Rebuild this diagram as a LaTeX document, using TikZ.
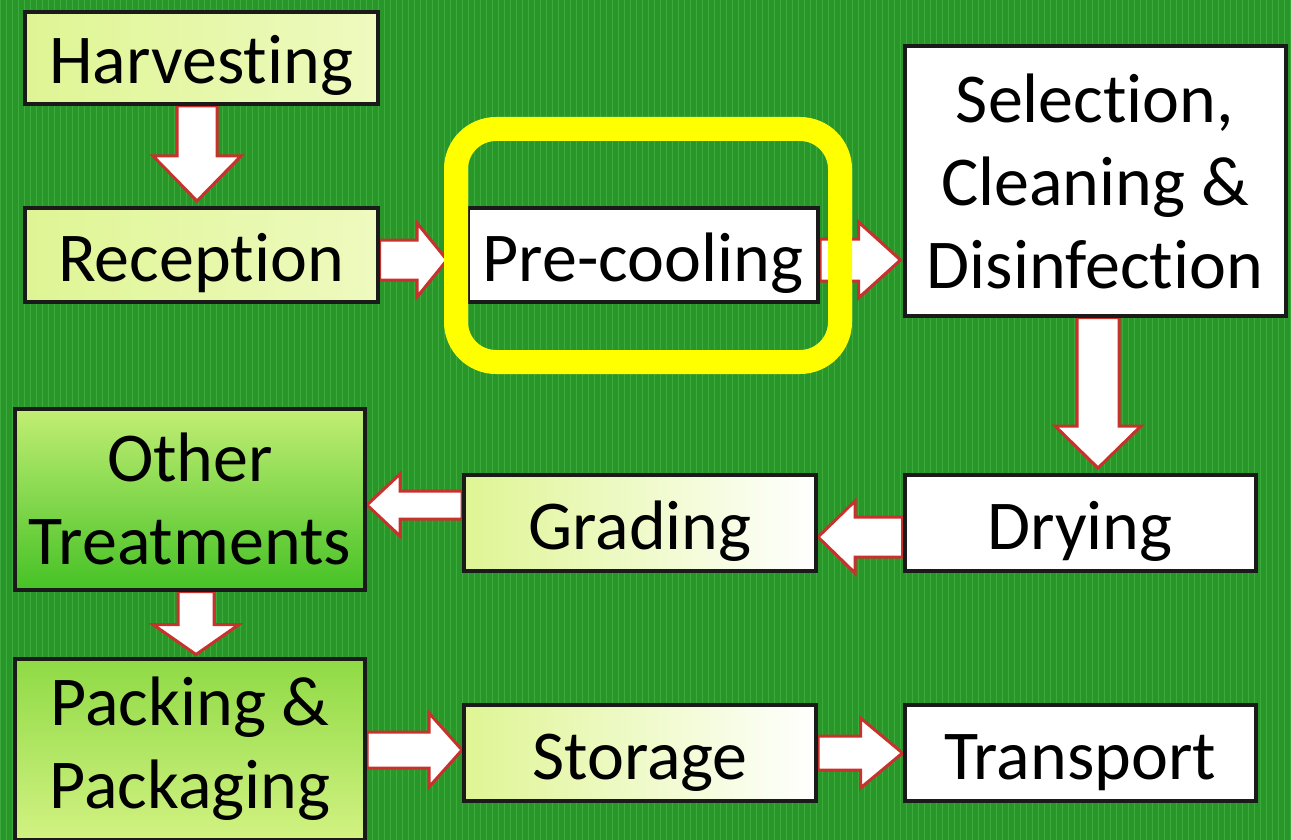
\documentclass[tikz,border=0pt]{standalone}
\usepackage{fontspec}
\setmainfont{Carlito}[Ligatures={NoCommon,NoContextual,NoRare},Contextuals=NoAlternate]
\usetikzlibrary{calc}
\pgfdeclarelayer{bgl}
\pgfdeclarelayer{arrl}
\pgfsetlayers{bgl,arrl,main}
\definecolor{bggreen}{HTML}{289628}
\definecolor{gridgreen}{HTML}{3DAA3D}
\definecolor{boxline}{HTML}{1A1A1A}
\definecolor{arrred}{HTML}{C8322D}
\definecolor{hlyellow}{HTML}{FFFF00}
\definecolor{limeA}{HTML}{DFF594}
\definecolor{limeB}{HTML}{EEFABF}
\definecolor{othA}{HTML}{C2EE74}
\definecolor{othB}{HTML}{46C226}
\definecolor{packA}{HTML}{8FDA45}
\definecolor{packB}{HTML}{D2F282}
\tikzset{
  stepbox/.style={draw=boxline, line width=4pt, inner sep=0pt, align=center,
    font=\fontsize{70}{83}\selectfont},
  whitebox/.style={stepbox, fill=white},
  limebox/.style={stepbox, left color=limeA, right color=limeB},
  fadebox/.style={stepbox, left color=limeA, right color=white},
  othbox/.style={stepbox, top color=othA, bottom color=othB},
  packbox/.style={stepbox, top color=packA, bottom color=packB},
  blockarrow/.style={fill=white, draw=arrred, line width=3pt, line join=miter},
  highlight/.style={draw=hlyellow, line width=24pt, rounded corners=40pt, inner sep=0pt}
}
% #1 start, #2 tip, #3 shaft half width, #4 head half width, #5 head length
\newcommand\blockarr[5]{%
  \draw[blockarrow] ($(#1)!#3!90:(#2)$)
    -- ($(#2)!#5!(#1)!#3!-90:(#1)$)
    -- ($(#2)!#5!(#1)!#4!-90:(#1)$)
    -- (#2)
    -- ($(#2)!#5!(#1)!#4!90:(#1)$)
    -- ($(#2)!#5!(#1)!#3!90:(#1)$)
    -- ($(#1)!#3!-90:(#2)$) -- cycle;}
\newcommand\lowtxt[1]{\raisebox{-26pt}[0pt][0pt]{#1}}
\begin{document}
\begin{tikzpicture}[x=1pt,y=-1pt]
\useasboundingbox (0,0) rectangle (1291,840);
\begin{pgfonlayer}{bgl}
  \fill[bggreen] (0,0) rectangle (1291,840);
  \draw[gridgreen, line width=1pt, step=6] (0,840) grid (1291,0);
\end{pgfonlayer}

\node[limebox, minimum width=353, minimum height=92] (harv) at (201,58) {\lowtxt{Harvesting}};
\node[limebox, minimum width=353, minimum height=94] (rec) at (201,255) {\lowtxt{Reception}};
\node[whitebox, minimum width=350, minimum height=94] (pre) at (643,255) {\lowtxt{Pre-cooling}};
\node[whitebox, minimum width=381, minimum height=269] (sel) at (1095,181) {Selection,\\Cleaning \&\\Disinfection};
\node[whitebox, minimum width=351, minimum height=96] (dry) at (1080,523) {\lowtxt{Drying}};
\node[fadebox, minimum width=352, minimum height=96] (grad) at (640,523) {\lowtxt{Grading}};
\node[othbox, minimum width=350, minimum height=181] (oth) at (190,499) {Other\\Treatments};
\node[packbox, minimum width=350, minimum height=181] (pack) at (190,749) {Packing \&\\Packaging};
\node[fadebox, minimum width=352, minimum height=96] (stor) at (640,753) {\lowtxt{Storage}};
\node[whitebox, minimum width=351, minimum height=96] (trans) at (1080,753) {\lowtxt{Transport}};

\node[highlight, minimum width=384, minimum height=233] (hl) at (648,245.5) {};

\coordinate (a1s) at ($(harv.south)+(-4,0)$);
\coordinate (a1e) at ($(rec.north)+(-4,-5)$);
\coordinate (a2s) at ($(rec.east)+(0,5)$);
\coordinate (a2e) at ($(pre.west)+(-19,5)$);
\coordinate (a3s) at ($(pre.east)+(0,5)$);
\coordinate (a3e) at ($(sel.west |- pre.east)+(-2,5)$);
\coordinate (a4s) at ($(sel.south)+(3,0)$);
\coordinate (a4e) at ($(dry.north)+(18,-5)$);
\coordinate (a5s) at ($(dry.west)+(0,14)$);
\coordinate (a5e) at ($(grad.east)+(0,14)$);
\coordinate (a6s) at ($(grad.west)+(0,-18)$);
\coordinate (a6e) at ($(oth.east)+(0,6)$);
\coordinate (a7s) at ($(oth.south)+(6,0)$);
\coordinate (a7e) at ($(pack.north)+(6,-2)$);
\coordinate (a8s) at ($(pack.east)+(0,1)$);
\coordinate (a8e) at ($(stor.west)+(0,-3)$);
\coordinate (a9s) at (stor.east);
\coordinate (a9e) at (trans.west);

\begin{pgfonlayer}{arrl}
  \blockarr{a1s}{a1e}{20pt}{44pt}{45pt}
  \blockarr{a2s}{a2e}{20pt}{37pt}{30pt}
  \blockarr{a3s}{a3e}{21pt}{38pt}{42pt}
  \blockarr{a4s}{a4e}{21pt}{43pt}{42pt}
  \blockarr{a5s}{a5e}{20pt}{36pt}{37pt}
  \blockarr{a6s}{a6e}{14pt}{31pt}{33pt}
  \blockarr{a7s}{a7e}{18pt}{43pt}{30pt}
  \blockarr{a8s}{a8e}{18pt}{37pt}{33pt}
  \blockarr{a9s}{a9e}{17pt}{35pt}{42pt}
\end{pgfonlayer}
\end{tikzpicture}
\end{document}
